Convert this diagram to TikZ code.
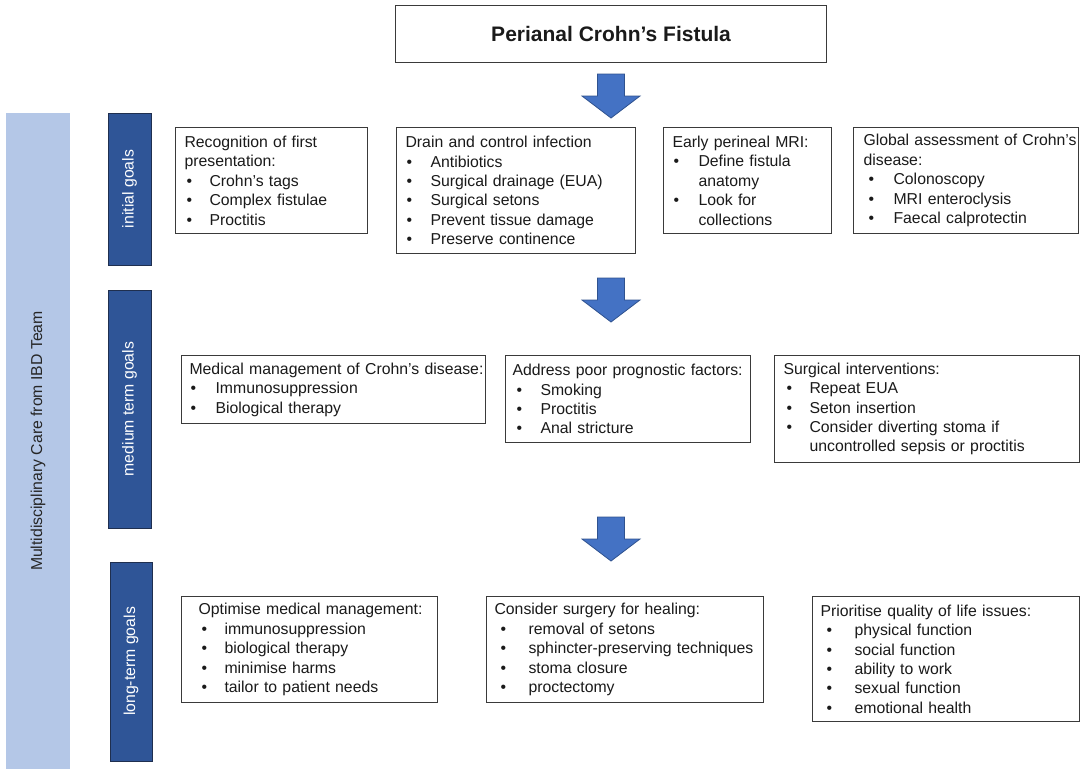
\documentclass[tikz,border=0pt]{standalone}
\usepackage{fontspec}
\setmainfont{Liberation Sans}
\definecolor{ink}{HTML}{1A1A1A}
\definecolor{boxline}{HTML}{3A3A3A}
\definecolor{teamfill}{HTML}{B4C7E7}
\definecolor{teamtext}{HTML}{262626}
\definecolor{goalfill}{HTML}{2F5597}
\definecolor{goalline}{HTML}{1F2F4F}
\definecolor{arrowfill}{HTML}{4472C4}
\definecolor{arrowline}{HTML}{2F528F}
% one line of a box: heading or continuation text indented by #1
\newcommand{\boxhead}[2]{\hspace*{#1pt}#2}
% bulleted line: bullet at #1, text at #2
\newcommand{\boxitem}[3]{\hspace*{#1pt}\makebox[\dimexpr#2pt-#1pt\relax][l]{\textbullet}#3}
\newcommand{\bodyfont}{\fontsize{15.8}{19.4}\selectfont}
\begin{document}
\begin{tikzpicture}[x=1pt,y=-1pt,
  infobox/.style={draw=boxline, line width=1.1pt, fill=white, inner xsep=0pt,
    inner ysep=0pt, anchor=north west, align=left, font=\bodyfont, text=ink},
  goalbar/.style={draw=goalline, line width=0.8pt, fill=goalfill, text=white,
    font=\bodyfont, rotate=90, inner sep=0pt},
  downarrow/.pic={\draw[draw=arrowline, fill=arrowfill, line width=0.8pt, line join=miter]
    (-13.5,0) -- (13.5,0) -- (13.5,22) -- (29,22) -- (0,44) -- (-29,22) -- (-13.5,22) -- cycle;}
]
\useasboundingbox (0,0) rectangle (1082,769);

% team band on the left
\node[fill=teamfill, text=teamtext, font=\bodyfont, rotate=90, inner sep=0pt,
  minimum width=656pt, minimum height=64pt] (team) at (38,441) {Multidisciplinary Care from IBD Team};

% stage labels
\node[goalbar, minimum width=152pt, minimum height=43pt] (initial) at (129.5,189) {initial goals};
\node[goalbar, minimum width=238pt, minimum height=43pt] (medium) at (129.5,409) {medium term goals};
\node[goalbar, minimum width=199pt, minimum height=42pt] (longterm) at (131,661.5) {long-term goals};

% title
\node[draw=boxline, line width=1.1pt, anchor=north west, minimum width=431pt, minimum height=57pt,
  inner sep=0pt, text=ink, font=\fontsize{21}{25}\selectfont\bfseries] (title) at (395,5) {Perianal Crohn’s Fistula};

% stage arrows
\pic at (611,74) {downarrow};
\pic at (611,278) {downarrow};
\pic at (611,517) {downarrow};

% initial goals
\node[infobox, text width=192pt, minimum height=106pt] (recog) at (175,127) {%
\boxhead{9}{Recognition of first}\\
\boxhead{9}{presentation:}\\
\boxitem{11}{34}{Crohn’s tags}\\
\boxitem{11}{34}{Complex fistulae}\\
\boxitem{11}{34}{Proctitis}};

\node[infobox, text width=239pt, minimum height=126pt] (drain) at (396,127) {%
\boxhead{9}{Drain and control infection}\\
\boxitem{10}{34}{Antibiotics}\\
\boxitem{10}{34}{Surgical drainage (EUA)}\\
\boxitem{10}{34}{Surgical setons}\\
\boxitem{10}{34}{Prevent tissue damage}\\
\boxitem{10}{34}{Preserve continence}};

\node[infobox, text width=168pt, minimum height=106pt] (mri) at (663,127) {%
\boxhead{9}{Early perineal MRI:}\\
\boxitem{10}{35}{Define fistula}\\
\boxhead{35}{anatomy}\\
\boxitem{10}{35}{Look for}\\
\boxhead{35}{collections}};

\node[infobox, text width=225pt, minimum height=106pt] (global) at (853,127) {%
\boxhead{10}{Global assessment of Crohn’s}\\
\boxhead{10}{disease:}\\
\boxitem{15}{40}{Colonoscopy}\\
\boxitem{15}{40}{MRI enteroclysis}\\
\boxitem{15}{40}{Faecal calprotectin}};

% medium term goals
\node[infobox, text width=304pt, minimum height=68pt] (medmgmt) at (181,355) {%
\boxhead{8}{Medical management of Crohn’s disease:}\\
\boxitem{9}{34}{Immunosuppression}\\
\boxitem{9}{34}{Biological therapy}};

\node[infobox, text width=245pt, minimum height=87pt] (prognostic) at (505,355) {%
\boxhead{7}{Address poor prognostic factors:}\\
\boxitem{11}{35}{Smoking}\\
\boxitem{11}{35}{Proctitis}\\
\boxitem{11}{35}{Anal stricture}};

\node[infobox, text width=305pt, minimum height=107pt] (surgical) at (774,355) {%
\boxhead{9}{Surgical interventions:}\\
\boxitem{12}{35}{Repeat EUA}\\
\boxitem{12}{35}{Seton insertion}\\
\boxitem{12}{35}{Consider diverting stoma if}\\
\boxhead{35}{uncontrolled sepsis or proctitis}};

% long-term goals
\node[infobox, text width=256pt, minimum height=106pt] (optimise) at (181,596) {%
\boxhead{17}{Optimise medical management:}\\
\boxitem{20}{43}{immunosuppression}\\
\boxitem{20}{43}{biological therapy}\\
\boxitem{20}{43}{minimise harms}\\
\boxitem{20}{43}{tailor to patient needs}};

\node[infobox, text width=277pt, minimum height=106pt] (healing) at (486,596) {%
\boxhead{8}{Consider surgery for healing:}\\
\boxitem{14}{42}{removal of setons}\\
\boxitem{14}{42}{sphincter-preserving techniques}\\
\boxitem{14}{42}{stoma closure}\\
\boxitem{14}{42}{proctectomy}};

\node[infobox, text width=267pt, minimum height=125pt] (quality) at (812,596) {%
\boxhead{8}{Prioritise quality of life issues:}\\
\boxitem{14}{42}{physical function}\\
\boxitem{14}{42}{social function}\\
\boxitem{14}{42}{ability to work}\\
\boxitem{14}{42}{sexual function}\\
\boxitem{14}{42}{emotional health}};
\end{tikzpicture}
\end{document}
